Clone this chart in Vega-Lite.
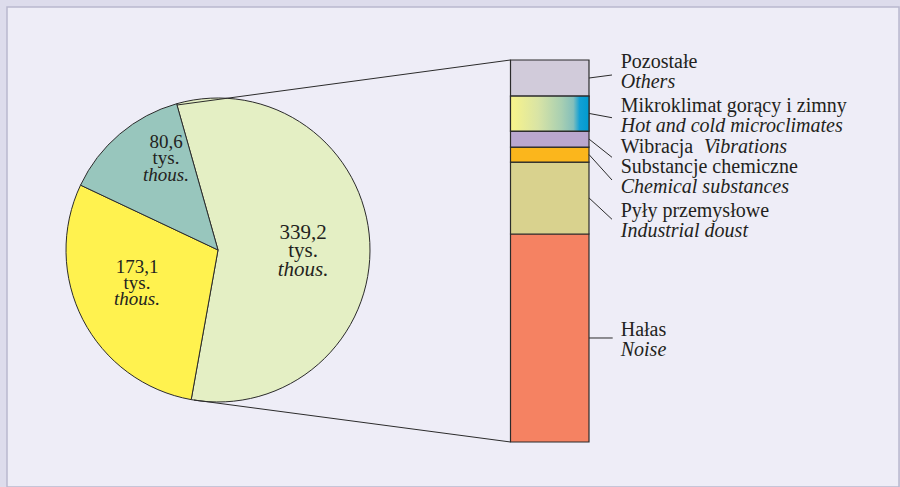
{
  "$schema": "https://vega.github.io/schema/vega-lite/v6.json",
  "width": 900,
  "height": 487,
  "autosize": {"type": "fit", "contains": "padding"},
  "padding": {"left": 7, "top": 7, "right": 1, "bottom": 0},
  "background": "#DDDCEC",
  "datasets": {
    "pie": [
      {"group": "A", "value": 339.2, "o": 1},
      {"group": "B", "value": 173.1, "o": 2},
      {"group": "C", "value": 80.6, "o": 3}
    ],
    "bar": [
      {"category": "Hałas", "en": "Noise", "value": 184.7, "order": 1},
      {"category": "Pyły przemysłowe", "en": "Industrial doust", "value": 63.9, "order": 2},
      {"category": "Substancje chemiczne", "en": "Chemical substances", "value": 13.3, "order": 3},
      {"category": "Wibracja", "en": "Vibrations", "value": 14.2, "order": 4},
      {"category": "Mikroklimat gorący i zimny", "en": "Hot and cold microclimates", "value": 31.1, "order": 5},
      {"category": "Pozostałe", "en": "Others", "value": 32.0, "order": 6}
    ],
    "one": [{}]
  },
  "layer": [
    {
      "data": {"name": "pie"},
      "mark": {"type": "arc", "outerRadius": 152, "stroke": "#2b2b2b", "strokeWidth": 1},
      "encoding": {
        "x": {"datum": 0, "type": "quantitative", "axis": null, "scale": {"domain": [-187.36, 604.7], "nice": false, "zero": false}},
        "y": {"datum": 170.49, "type": "quantitative", "axis": null, "scale": {"domain": [-39.96, 386.26], "nice": false, "zero": false}},
        "theta": {"field": "value", "type": "quantitative", "stack": true, "scale": {"range": [-0.2758, 6.0074]}},
        "order": {"field": "o", "type": "quantitative"},
        "fill": {"field": "group", "type": "nominal", "legend": null, "scale": {"domain": ["A", "B", "C"], "range": ["#E4EFC4", "#FFF24F", "#98C6BD"]}}
      }
    },
    {
      "data": {"name": "bar"},
      "transform": [{"stack": "value", "groupby": [], "sort": [{"field": "order", "order": "ascending"}], "as": ["y0", "y1"]}],
      "mark": {"type": "rect", "stroke": "#2b2b2b", "strokeWidth": 1.2},
      "encoding": {
        "x": {"datum": 259.73, "type": "quantitative"},
        "x2": {"datum": 329.43},
        "y": {"field": "y0", "type": "quantitative"},
        "y2": {"field": "y1"},
        "fill": {"field": "category", "type": "nominal", "legend": null, "scale": {
          "domain": ["Hałas", "Pyły przemysłowe", "Substancje chemiczne", "Wibracja", "Mikroklimat gorący i zimny", "Pozostałe"],
          "range": ["#F58262", "#D9D28E", "#FBB61C", "#BAA7CF", "#C8DDA8", "#D1CBDA"]}}
      }
    },
    {
      "data": {"name": "bar"},
      "transform": [
        {"stack": "value", "groupby": [], "sort": [{"field": "order", "order": "ascending"}], "as": ["y0", "y1"]},
        {"filter": {"field": "order", "equal": 5}}
      ],
      "mark": {"type": "rect", "stroke": "#2b2b2b", "strokeWidth": 1.2,
        "fill": {"gradient": "linear", "x1": 0, "y1": 0, "x2": 1, "y2": 0, "stops": [
          {"offset": 0, "color": "#F9F48A"},
          {"offset": 0.35, "color": "#D9E4A5"},
          {"offset": 0.65, "color": "#A8CFB2"},
          {"offset": 0.8, "color": "#84BFBB"},
          {"offset": 0.88, "color": "#12A0D4"},
          {"offset": 1, "color": "#009ACF"}
        ]}},
      "encoding": {
        "x": {"datum": 259.73, "type": "quantitative"},
        "x2": {"datum": 329.43},
        "y": {"field": "y0", "type": "quantitative"},
        "y2": {"field": "y1"}
      }
    },
    {"data": {"name": "one"}, "mark": {"type": "rule"}, "encoding": {"x": {"datum": -36.41, "type": "quantitative"}, "y": {"datum": 299.24, "type": "quantitative"}, "x2": {"datum": 259.73}, "y2": {"datum": 339.2}}},
    {"data": {"name": "one"}, "mark": {"type": "rule"}, "encoding": {"x": {"datum": -21.31, "type": "quantitative"}, "y": {"datum": 37.29, "type": "quantitative"}, "x2": {"datum": 259.73}, "y2": {"datum": 0}}},
    {"data": {"name": "one"}, "mark": {"type": "rule"}, "encoding": {"x": {"datum": 329.43, "type": "quantitative"}, "y": {"datum": 323.2, "type": "quantitative"}, "x2": {"datum": 349.85}, "y2": {"datum": 325.88}}},
    {"data": {"name": "one"}, "mark": {"type": "rule"}, "encoding": {"x": {"datum": 329.43, "type": "quantitative"}, "y": {"datum": 291.75, "type": "quantitative"}, "x2": {"datum": 349.85}, "y2": {"datum": 287.96}}},
    {"data": {"name": "one"}, "mark": {"type": "rule"}, "encoding": {"x": {"datum": 329.43, "type": "quantitative"}, "y": {"datum": 269.0, "type": "quantitative"}, "x2": {"datum": 349.85}, "y2": {"datum": 252.8}}},
    {"data": {"name": "one"}, "mark": {"type": "rule"}, "encoding": {"x": {"datum": 329.43, "type": "quantitative"}, "y": {"datum": 255.25, "type": "quantitative"}, "x2": {"datum": 349.85}, "y2": {"datum": 232.64}}},
    {"data": {"name": "one"}, "mark": {"type": "rule"}, "encoding": {"x": {"datum": 329.43, "type": "quantitative"}, "y": {"datum": 216.75, "type": "quantitative"}, "x2": {"datum": 349.85}, "y2": {"datum": 197.75}}},
    {"data": {"name": "one"}, "mark": {"type": "rule"}, "encoding": {"x": {"datum": 329.43, "type": "quantitative"}, "y": {"datum": 92.35, "type": "quantitative"}, "x2": {"datum": 350.47}, "y2": {"datum": 92.35}}},

    {"data": {"name": "one"}, "mark": {"type": "text", "text": "Pozostałe"}, "encoding": {"x": {"datum": 357.6, "type": "quantitative"}, "y": {"datum": 332.36, "type": "quantitative"}}},
    {"data": {"name": "one"}, "mark": {"type": "text", "text": "Others", "fontStyle": "italic"}, "encoding": {"x": {"datum": 357.6, "type": "quantitative"}, "y": {"datum": 314.07, "type": "quantitative"}}},
    {"data": {"name": "one"}, "mark": {"type": "text", "text": "Mikroklimat gorący i zimny"}, "encoding": {"x": {"datum": 357.6, "type": "quantitative"}, "y": {"datum": 293.29, "type": "quantitative"}}},
    {"data": {"name": "one"}, "mark": {"type": "text", "text": "Hot and cold microclimates", "fontStyle": "italic"}, "encoding": {"x": {"datum": 357.6, "type": "quantitative"}, "y": {"datum": 275.53, "type": "quantitative"}}},
    {"data": {"name": "one"}, "mark": {"type": "text", "text": "Wibracja"}, "encoding": {"x": {"datum": 357.6, "type": "quantitative"}, "y": {"datum": 256.35, "type": "quantitative"}}},
    {"data": {"name": "one"}, "mark": {"type": "text", "text": "Vibrations", "fontStyle": "italic"}, "encoding": {"x": {"datum": 431.55, "type": "quantitative"}, "y": {"datum": 256.35, "type": "quantitative"}}},
    {"data": {"name": "one"}, "mark": {"type": "text", "text": "Substancje chemiczne"}, "encoding": {"x": {"datum": 357.6, "type": "quantitative"}, "y": {"datum": 239.13, "type": "quantitative"}}},
    {"data": {"name": "one"}, "mark": {"type": "text", "text": "Chemical substances", "fontStyle": "italic"}, "encoding": {"x": {"datum": 357.6, "type": "quantitative"}, "y": {"datum": 220.83, "type": "quantitative"}}},
    {"data": {"name": "one"}, "mark": {"type": "text", "text": "Pyły przemysłowe"}, "encoding": {"x": {"datum": 357.6, "type": "quantitative"}, "y": {"datum": 200.06, "type": "quantitative"}}},
    {"data": {"name": "one"}, "mark": {"type": "text", "text": "Industrial doust", "fontStyle": "italic"}, "encoding": {"x": {"datum": 357.6, "type": "quantitative"}, "y": {"datum": 182.3, "type": "quantitative"}}},
    {"data": {"name": "one"}, "mark": {"type": "text", "text": "Hałas"}, "encoding": {"x": {"datum": 357.6, "type": "quantitative"}, "y": {"datum": 94.12, "type": "quantitative"}}},
    {"data": {"name": "one"}, "mark": {"type": "text", "text": "Noise", "fontStyle": "italic"}, "encoding": {"x": {"datum": 357.6, "type": "quantitative"}, "y": {"datum": 76.36, "type": "quantitative"}}},

    {"data": {"name": "one"}, "mark": {"type": "text", "text": "339,2", "align": "center", "fontSize": 21}, "encoding": {"x": {"datum": 75.48, "type": "quantitative"}, "y": {"datum": 180.26, "type": "quantitative"}}},
    {"data": {"name": "one"}, "mark": {"type": "text", "text": "tys.", "align": "center", "fontSize": 21}, "encoding": {"x": {"datum": 75.48, "type": "quantitative"}, "y": {"datum": 164.0, "type": "quantitative"}}},
    {"data": {"name": "one"}, "mark": {"type": "text", "text": "thous.", "align": "center", "fontSize": 21, "fontStyle": "italic"}, "encoding": {"x": {"datum": 75.48, "type": "quantitative"}, "y": {"datum": 147.67, "type": "quantitative"}}},
    {"data": {"name": "one"}, "mark": {"type": "text", "text": "173,1", "align": "center", "fontSize": 19}, "encoding": {"x": {"datum": -71.92, "type": "quantitative"}, "y": {"datum": 150.33, "type": "quantitative"}}},
    {"data": {"name": "one"}, "mark": {"type": "text", "text": "tys.", "align": "center", "fontSize": 19}, "encoding": {"x": {"datum": -71.92, "type": "quantitative"}, "y": {"datum": 135.86, "type": "quantitative"}}},
    {"data": {"name": "one"}, "mark": {"type": "text", "text": "thous.", "align": "center", "fontSize": 19, "fontStyle": "italic"}, "encoding": {"x": {"datum": -71.92, "type": "quantitative"}, "y": {"datum": 121.65, "type": "quantitative"}}},
    {"data": {"name": "one"}, "mark": {"type": "text", "text": "80,6", "align": "center", "fontSize": 19}, "encoding": {"x": {"datum": -46.17, "type": "quantitative"}, "y": {"datum": 261.33, "type": "quantitative"}}},
    {"data": {"name": "one"}, "mark": {"type": "text", "text": "tys.", "align": "center", "fontSize": 19}, "encoding": {"x": {"datum": -46.17, "type": "quantitative"}, "y": {"datum": 246.85, "type": "quantitative"}}},
    {"data": {"name": "one"}, "mark": {"type": "text", "text": "thous.", "align": "center", "fontSize": 19, "fontStyle": "italic"}, "encoding": {"x": {"datum": -46.17, "type": "quantitative"}, "y": {"datum": 232.03, "type": "quantitative"}}}
  ],
  "resolve": {"scale": {"fill": "independent"}},
  "config": {
    "view": {"fill": "#EEEDF7", "stroke": "#B9B8CE", "strokeWidth": 1.5},
    "axis": {"disable": true},
    "rule": {"stroke": "#2b2b2b", "strokeWidth": 1},
    "text": {"font": "Liberation Serif", "fontSize": 20, "fill": "#231F20", "align": "left", "baseline": "alphabetic"}
  }
}
